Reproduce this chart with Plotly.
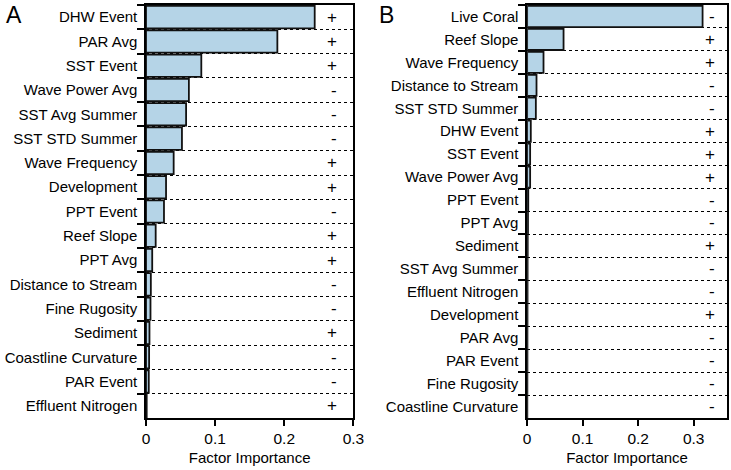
import plotly.graph_objects as go

# panel A (top to bottom)
factors_a = ["DHW Event", "PAR Avg", "SST Event", "Wave Power Avg", "SST Avg Summer",
             "SST STD Summer", "Wave Frequency", "Development", "PPT Event", "Reef Slope",
             "PPT Avg", "Distance to Stream", "Fine Rugosity", "Sediment",
             "Coastline Curvature", "PAR Event", "Effluent Nitrogen"]
importance_a = [0.244, 0.190, 0.080, 0.062, 0.058, 0.052, 0.040, 0.029, 0.026, 0.014,
                0.009, 0.007, 0.0065, 0.005, 0.0045, 0.004, 0.001]
signs_a = ["+", "+", "+", "-", "-", "-", "+", "+", "-", "+", "+", "-", "-", "+", "-", "-", "+"]

# panel B (top to bottom)
factors_b = ["Live Coral", "Reef Slope", "Wave Frequency", "Distance to Stream",
             "SST STD Summer", "DHW Event", "SST Event", "Wave Power Avg", "PPT Event",
             "PPT Avg", "Sediment", "SST Avg Summer", "Effluent Nitrogen", "Development",
             "PAR Avg", "PAR Event", "Fine Rugosity", "Coastline Curvature"]
importance_b = [0.316, 0.0656, 0.0295, 0.0169, 0.0157, 0.0066, 0.0054, 0.0054, 0.002,
                0.0015, 0.001, 0.0008, 0.0007, 0.0006, 0.0005, 0.0005, 0.0004, 0.0003]
signs_b = ["-", "+", "+", "-", "-", "+", "+", "+", "-", "-", "+", "-", "-", "+", "-", "-", "-", "-"]

xticks = [0, 0.1, 0.2, 0.3]
xticklabels = ["0", "0.1", "0.2", "0.3"]

font = "Liberation Sans, Arial, Helvetica, sans-serif"
bar_fill = "#b5d4e7"

fig = go.Figure()
fig.add_trace(go.Bar(x=importance_a, y=factors_a, orientation="h", xaxis="x", yaxis="y",
                     marker=dict(color=bar_fill, line=dict(color="#111111", width=1.8)),
                     showlegend=False))
fig.add_trace(go.Bar(x=importance_b, y=factors_b, orientation="h", xaxis="x2", yaxis="y2",
                     marker=dict(color=bar_fill, line=dict(color="#111111", width=1.8)),
                     showlegend=False))

annotations = []
for f, s in zip(factors_a, signs_a):
    annotations.append(dict(x=0.93, xref="x domain", y=f, yref="y", text=s, showarrow=False,
                            font=dict(size=17, color="black", family=font)))
for f, s in zip(factors_b, signs_b):
    annotations.append(dict(x=0.95, xref="x2 domain", y=f, yref="y2", text=s, showarrow=False,
                            font=dict(size=17, color="black", family=font)))
annotations.append(dict(x=-0.245, y=1.013, xref="paper", yref="paper", text="A", showarrow=False,
                        xanchor="left", yanchor="top", font=dict(size=23, color="black", family=font)))
annotations.append(dict(x=0.397, y=1.013, xref="paper", yref="paper", text="B", showarrow=False,
                        xanchor="left", yanchor="top", font=dict(size=23, color="black", family=font)))

xcommon = dict(showline=True, linecolor="black", linewidth=1.5, mirror=True, ticks="outside",
               ticklen=6, tickwidth=1.5, tickcolor="black", tickvals=xticks, ticktext=xticklabels,
               showgrid=False, zeroline=False, automargin=False,
               title=dict(text="Factor Importance", standoff=6, font=dict(size=15)),
               tickfont=dict(size=15.5))
ycommon = dict(showline=True, linecolor="black", linewidth=1.5, mirror=True, ticks="outside",
               ticklen=7, tickwidth=1.5, tickcolor="black", tickson="boundaries",
               autorange="reversed", showgrid=True, gridcolor="black", gridwidth=1,
               griddash="dot", tickfont=dict(size=15), ticklabelstandoff=4, automargin=False)

fig.update_layout(
    width=731, height=470,
    margin=dict(l=146, r=4, t=5, b=52),
    plot_bgcolor="white", paper_bgcolor="white",
    font=dict(family=font, color="black"),
    bargap=0.08,
    xaxis=dict(domain=[0, 0.357], range=[0, 0.3], anchor="y", **xcommon),
    yaxis=dict(anchor="x", **ycommon),
    xaxis2=dict(domain=[0.656, 1], range=[0, 0.36], anchor="y2", **xcommon),
    yaxis2=dict(anchor="x2", **ycommon),
    annotations=annotations,
)

# drop the default page margin so the figure sits at the window's corner
fig.write_html("out.html", config={"displayModeBar": False},
               post_script="document.body.style.margin='0';")
